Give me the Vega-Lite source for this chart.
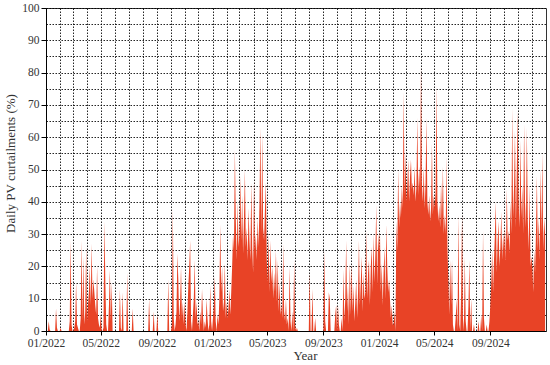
{
"$schema": "https://vega.github.io/schema/vega-lite/v6.json",
"width": 500, "height": 323,
"autosize": {"type": "none"},
"padding": {"left": 46, "top": 8, "right": 4, "bottom": 34},
"background": "white",
"config": {"view": {"stroke": "#333", "strokeWidth": 1}, "font": "Liberation Serif"},
"data": {"values": [
{"date":"2022-01-01","v":0},{"date":"2022-01-03","v":0},{"date":"2022-01-05","v":0},{"date":"2022-01-07","v":3},{"date":"2022-01-09","v":0.5},{"date":"2022-01-11","v":0},{"date":"2022-01-15","v":0},{"date":"2022-01-19","v":0},{"date":"2022-01-21","v":0},{"date":"2022-01-23","v":7},{"date":"2022-01-25","v":1},{"date":"2022-01-27","v":0},{"date":"2022-01-31","v":0},
{"date":"2022-02-02","v":1},{"date":"2022-02-04","v":0},{"date":"2022-02-10","v":0},{"date":"2022-02-16","v":0},{"date":"2022-02-20","v":0},{"date":"2022-02-22","v":3},{"date":"2022-02-24","v":28},{"date":"2022-02-26","v":2},{"date":"2022-02-28","v":0},
{"date":"2022-03-02","v":0},{"date":"2022-03-04","v":1},{"date":"2022-03-06","v":3},{"date":"2022-03-08","v":15},{"date":"2022-03-10","v":2},{"date":"2022-03-12","v":1},{"date":"2022-03-14","v":0},{"date":"2022-03-16","v":0},{"date":"2022-03-18","v":4},{"date":"2022-03-20","v":28},{"date":"2022-03-22","v":3},{"date":"2022-03-24","v":23},{"date":"2022-03-26","v":2},{"date":"2022-03-28","v":6},{"date":"2022-03-30","v":26},
{"date":"2022-04-01","v":3},{"date":"2022-04-03","v":8},{"date":"2022-04-05","v":12},{"date":"2022-04-07","v":20},{"date":"2022-04-09","v":8},{"date":"2022-04-11","v":27},{"date":"2022-04-13","v":10},{"date":"2022-04-15","v":16},{"date":"2022-04-17","v":12},{"date":"2022-04-19","v":8},{"date":"2022-04-21","v":5},{"date":"2022-04-23","v":20},{"date":"2022-04-25","v":4},{"date":"2022-04-27","v":2},{"date":"2022-04-29","v":1},
{"date":"2022-05-01","v":5},{"date":"2022-05-03","v":0},{"date":"2022-05-05","v":0},{"date":"2022-05-07","v":1},{"date":"2022-05-09","v":34},{"date":"2022-05-11","v":16},{"date":"2022-05-13","v":2},{"date":"2022-05-15","v":0},{"date":"2022-05-17","v":0},{"date":"2022-05-19","v":8},{"date":"2022-05-21","v":19},{"date":"2022-05-23","v":3},{"date":"2022-05-25","v":15},{"date":"2022-05-27","v":0},{"date":"2022-05-31","v":0},
{"date":"2022-06-04","v":0},{"date":"2022-06-10","v":0},{"date":"2022-06-12","v":13},{"date":"2022-06-14","v":1},{"date":"2022-06-16","v":0},{"date":"2022-06-18","v":12},{"date":"2022-06-20","v":0},{"date":"2022-06-26","v":0},{"date":"2022-06-28","v":18},{"date":"2022-06-30","v":0},
{"date":"2022-07-08","v":0},{"date":"2022-07-10","v":7},{"date":"2022-07-12","v":0},{"date":"2022-07-24","v":0},
{"date":"2022-08-05","v":0},{"date":"2022-08-13","v":0},{"date":"2022-08-15","v":10},{"date":"2022-08-17","v":0},{"date":"2022-08-23","v":0},{"date":"2022-08-25","v":6},{"date":"2022-08-27","v":0},{"date":"2022-08-31","v":0},
{"date":"2022-09-02","v":5},{"date":"2022-09-04","v":0},{"date":"2022-09-14","v":0},{"date":"2022-09-24","v":0},{"date":"2022-09-26","v":16},{"date":"2022-09-28","v":0},{"date":"2022-09-30","v":0},
{"date":"2022-10-02","v":0},{"date":"2022-10-04","v":2},{"date":"2022-10-06","v":38},{"date":"2022-10-08","v":4},{"date":"2022-10-10","v":0},{"date":"2022-10-12","v":2},{"date":"2022-10-14","v":6},{"date":"2022-10-16","v":24},{"date":"2022-10-18","v":16},{"date":"2022-10-20","v":3},{"date":"2022-10-22","v":9},{"date":"2022-10-24","v":20},{"date":"2022-10-26","v":4},{"date":"2022-10-28","v":9},{"date":"2022-10-30","v":2},
{"date":"2022-11-01","v":9},{"date":"2022-11-03","v":2},{"date":"2022-11-05","v":0},{"date":"2022-11-07","v":6},{"date":"2022-11-09","v":14},{"date":"2022-11-11","v":20},{"date":"2022-11-13","v":28},{"date":"2022-11-15","v":3},{"date":"2022-11-17","v":0},{"date":"2022-11-19","v":5},{"date":"2022-11-21","v":10},{"date":"2022-11-23","v":22},{"date":"2022-11-25","v":4},{"date":"2022-11-27","v":9},{"date":"2022-11-29","v":2},
{"date":"2022-12-01","v":3},{"date":"2022-12-03","v":0},{"date":"2022-12-05","v":6},{"date":"2022-12-07","v":2},{"date":"2022-12-09","v":13},{"date":"2022-12-11","v":5},{"date":"2022-12-13","v":0},{"date":"2022-12-15","v":3},{"date":"2022-12-17","v":1},{"date":"2022-12-19","v":10},{"date":"2022-12-21","v":4},{"date":"2022-12-23","v":0},{"date":"2022-12-25","v":2},{"date":"2022-12-27","v":14},{"date":"2022-12-29","v":3},{"date":"2022-12-31","v":0},
{"date":"2023-01-02","v":4},{"date":"2023-01-04","v":8},{"date":"2023-01-06","v":17},{"date":"2023-01-08","v":3},{"date":"2023-01-10","v":0},{"date":"2023-01-12","v":5},{"date":"2023-01-14","v":2},{"date":"2023-01-16","v":10},{"date":"2023-01-18","v":33},{"date":"2023-01-20","v":12},{"date":"2023-01-22","v":20},{"date":"2023-01-24","v":6},{"date":"2023-01-26","v":9},{"date":"2023-01-28","v":21},{"date":"2023-01-30","v":4},
{"date":"2023-02-01","v":9},{"date":"2023-02-03","v":4},{"date":"2023-02-05","v":7},{"date":"2023-02-07","v":13},{"date":"2023-02-09","v":5},{"date":"2023-02-11","v":12},{"date":"2023-02-13","v":20},{"date":"2023-02-15","v":30},{"date":"2023-02-17","v":25},{"date":"2023-02-19","v":56},{"date":"2023-02-21","v":35},{"date":"2023-02-23","v":22},{"date":"2023-02-25","v":40},{"date":"2023-02-27","v":26},
{"date":"2023-03-01","v":30},{"date":"2023-03-03","v":48},{"date":"2023-03-05","v":28},{"date":"2023-03-07","v":42},{"date":"2023-03-09","v":24},{"date":"2023-03-11","v":35},{"date":"2023-03-13","v":50},{"date":"2023-03-15","v":26},{"date":"2023-03-17","v":32},{"date":"2023-03-19","v":22},{"date":"2023-03-21","v":38},{"date":"2023-03-23","v":28},{"date":"2023-03-25","v":22},{"date":"2023-03-27","v":46},{"date":"2023-03-29","v":26},{"date":"2023-03-31","v":18},
{"date":"2023-04-02","v":47},{"date":"2023-04-04","v":25},{"date":"2023-04-06","v":30},{"date":"2023-04-08","v":22},{"date":"2023-04-10","v":35},{"date":"2023-04-12","v":26},{"date":"2023-04-14","v":40},{"date":"2023-04-16","v":63},{"date":"2023-04-18","v":30},{"date":"2023-04-20","v":61},{"date":"2023-04-22","v":32},{"date":"2023-04-24","v":28},{"date":"2023-04-26","v":38},{"date":"2023-04-28","v":46},{"date":"2023-04-30","v":22},
{"date":"2023-05-02","v":15},{"date":"2023-05-04","v":30},{"date":"2023-05-06","v":12},{"date":"2023-05-08","v":28},{"date":"2023-05-10","v":15},{"date":"2023-05-12","v":20},{"date":"2023-05-14","v":10},{"date":"2023-05-16","v":18},{"date":"2023-05-18","v":12},{"date":"2023-05-20","v":25},{"date":"2023-05-22","v":9},{"date":"2023-05-24","v":22},{"date":"2023-05-26","v":6},{"date":"2023-05-28","v":15},{"date":"2023-05-30","v":5},
{"date":"2023-06-01","v":8},{"date":"2023-06-03","v":4},{"date":"2023-06-05","v":27},{"date":"2023-06-07","v":6},{"date":"2023-06-09","v":3},{"date":"2023-06-11","v":10},{"date":"2023-06-13","v":2},{"date":"2023-06-15","v":4},{"date":"2023-06-17","v":0},{"date":"2023-06-19","v":20},{"date":"2023-06-21","v":3},{"date":"2023-06-23","v":0},{"date":"2023-06-25","v":6},{"date":"2023-06-27","v":0},{"date":"2023-06-29","v":22},
{"date":"2023-07-01","v":2},{"date":"2023-07-03","v":0},{"date":"2023-07-05","v":1},{"date":"2023-07-07","v":0},{"date":"2023-07-19","v":0},{"date":"2023-07-31","v":0},
{"date":"2023-08-02","v":18},{"date":"2023-08-04","v":0},{"date":"2023-08-06","v":0},{"date":"2023-08-08","v":13},{"date":"2023-08-10","v":0},{"date":"2023-08-12","v":0},{"date":"2023-08-14","v":4},{"date":"2023-08-16","v":0},{"date":"2023-08-30","v":0},
{"date":"2023-09-01","v":0},{"date":"2023-09-03","v":25},{"date":"2023-09-05","v":3},{"date":"2023-09-07","v":0},{"date":"2023-09-11","v":0},{"date":"2023-09-13","v":12},{"date":"2023-09-15","v":10},{"date":"2023-09-17","v":0},{"date":"2023-09-25","v":0},{"date":"2023-09-27","v":5},{"date":"2023-09-29","v":8},
{"date":"2023-10-01","v":0},{"date":"2023-10-03","v":8},{"date":"2023-10-05","v":2},{"date":"2023-10-07","v":0},{"date":"2023-10-09","v":0},{"date":"2023-10-11","v":4},{"date":"2023-10-13","v":0},{"date":"2023-10-15","v":19},{"date":"2023-10-17","v":3},{"date":"2023-10-19","v":10},{"date":"2023-10-21","v":28},{"date":"2023-10-23","v":6},{"date":"2023-10-25","v":14},{"date":"2023-10-27","v":2},{"date":"2023-10-29","v":21},{"date":"2023-10-31","v":5},
{"date":"2023-11-02","v":21},{"date":"2023-11-04","v":6},{"date":"2023-11-06","v":14},{"date":"2023-11-08","v":3},{"date":"2023-11-10","v":9},{"date":"2023-11-12","v":16},{"date":"2023-11-14","v":4},{"date":"2023-11-16","v":12},{"date":"2023-11-18","v":28},{"date":"2023-11-20","v":8},{"date":"2023-11-22","v":15},{"date":"2023-11-24","v":23},{"date":"2023-11-26","v":6},{"date":"2023-11-28","v":18},{"date":"2023-11-30","v":10},
{"date":"2023-12-02","v":12},{"date":"2023-12-04","v":31},{"date":"2023-12-06","v":10},{"date":"2023-12-08","v":18},{"date":"2023-12-10","v":22},{"date":"2023-12-12","v":8},{"date":"2023-12-14","v":20},{"date":"2023-12-16","v":26},{"date":"2023-12-18","v":12},{"date":"2023-12-20","v":30},{"date":"2023-12-22","v":15},{"date":"2023-12-24","v":24},{"date":"2023-12-26","v":39},{"date":"2023-12-28","v":14},{"date":"2023-12-30","v":30},
{"date":"2024-01-01","v":25},{"date":"2024-01-03","v":31},{"date":"2024-01-05","v":12},{"date":"2024-01-07","v":21},{"date":"2024-01-09","v":8},{"date":"2024-01-11","v":18},{"date":"2024-01-13","v":26},{"date":"2024-01-15","v":10},{"date":"2024-01-17","v":33},{"date":"2024-01-19","v":20},{"date":"2024-01-21","v":12},{"date":"2024-01-23","v":16},{"date":"2024-01-25","v":10},{"date":"2024-01-27","v":4},{"date":"2024-01-29","v":8},{"date":"2024-01-31","v":2},
{"date":"2024-02-02","v":2},{"date":"2024-02-04","v":6},{"date":"2024-02-06","v":0},{"date":"2024-02-08","v":34},{"date":"2024-02-10","v":25},{"date":"2024-02-12","v":50},{"date":"2024-02-14","v":32},{"date":"2024-02-16","v":40},{"date":"2024-02-18","v":35},{"date":"2024-02-20","v":45},{"date":"2024-02-22","v":38},{"date":"2024-02-24","v":74},{"date":"2024-02-26","v":42},{"date":"2024-02-28","v":55},
{"date":"2024-03-01","v":40},{"date":"2024-03-03","v":45},{"date":"2024-03-05","v":53},{"date":"2024-03-07","v":40},{"date":"2024-03-09","v":48},{"date":"2024-03-11","v":53},{"date":"2024-03-13","v":44},{"date":"2024-03-15","v":46},{"date":"2024-03-17","v":42},{"date":"2024-03-19","v":51},{"date":"2024-03-21","v":40},{"date":"2024-03-23","v":45},{"date":"2024-03-25","v":66},{"date":"2024-03-27","v":42},{"date":"2024-03-29","v":51},{"date":"2024-03-31","v":44},
{"date":"2024-04-02","v":82},{"date":"2024-04-04","v":46},{"date":"2024-04-06","v":40},{"date":"2024-04-08","v":51},{"date":"2024-04-10","v":38},{"date":"2024-04-12","v":46},{"date":"2024-04-14","v":66},{"date":"2024-04-16","v":40},{"date":"2024-04-18","v":36},{"date":"2024-04-20","v":42},{"date":"2024-04-22","v":34},{"date":"2024-04-24","v":38},{"date":"2024-04-26","v":58},{"date":"2024-04-28","v":36},{"date":"2024-04-30","v":42},
{"date":"2024-05-02","v":38},{"date":"2024-05-04","v":43},{"date":"2024-05-06","v":76},{"date":"2024-05-08","v":40},{"date":"2024-05-10","v":34},{"date":"2024-05-12","v":39},{"date":"2024-05-14","v":32},{"date":"2024-05-16","v":46},{"date":"2024-05-18","v":34},{"date":"2024-05-20","v":51},{"date":"2024-05-22","v":30},{"date":"2024-05-24","v":36},{"date":"2024-05-26","v":30},{"date":"2024-05-28","v":54},{"date":"2024-05-30","v":26},
{"date":"2024-06-01","v":15},{"date":"2024-06-03","v":5},{"date":"2024-06-05","v":22},{"date":"2024-06-07","v":8},{"date":"2024-06-09","v":22},{"date":"2024-06-11","v":2},{"date":"2024-06-13","v":0},{"date":"2024-06-15","v":0},{"date":"2024-06-17","v":4},{"date":"2024-06-19","v":10},{"date":"2024-06-21","v":0},{"date":"2024-06-23","v":36},{"date":"2024-06-25","v":2},{"date":"2024-06-27","v":0},{"date":"2024-06-29","v":12},
{"date":"2024-07-01","v":36},{"date":"2024-07-03","v":4},{"date":"2024-07-05","v":0},{"date":"2024-07-07","v":23},{"date":"2024-07-09","v":3},{"date":"2024-07-11","v":0},{"date":"2024-07-13","v":0},{"date":"2024-07-15","v":8},{"date":"2024-07-17","v":22},{"date":"2024-07-19","v":0},{"date":"2024-07-21","v":10},{"date":"2024-07-23","v":0},{"date":"2024-07-25","v":0},{"date":"2024-07-27","v":2},{"date":"2024-07-29","v":0},{"date":"2024-07-31","v":0},
{"date":"2024-08-02","v":0},{"date":"2024-08-04","v":0},{"date":"2024-08-06","v":3},{"date":"2024-08-08","v":0},{"date":"2024-08-10","v":0},{"date":"2024-08-12","v":5},{"date":"2024-08-14","v":0},{"date":"2024-08-16","v":31},{"date":"2024-08-18","v":4},{"date":"2024-08-20","v":0},{"date":"2024-08-22","v":0},{"date":"2024-08-24","v":2},{"date":"2024-08-26","v":0},{"date":"2024-08-28","v":0},{"date":"2024-08-30","v":3},
{"date":"2024-09-01","v":8},{"date":"2024-09-03","v":15},{"date":"2024-09-05","v":25},{"date":"2024-09-07","v":12},{"date":"2024-09-09","v":22},{"date":"2024-09-11","v":30},{"date":"2024-09-13","v":40},{"date":"2024-09-15","v":18},{"date":"2024-09-17","v":28},{"date":"2024-09-19","v":34},{"date":"2024-09-21","v":20},{"date":"2024-09-23","v":26},{"date":"2024-09-25","v":37},{"date":"2024-09-27","v":22},{"date":"2024-09-29","v":30},
{"date":"2024-10-01","v":25},{"date":"2024-10-03","v":32},{"date":"2024-10-05","v":22},{"date":"2024-10-07","v":44},{"date":"2024-10-09","v":28},{"date":"2024-10-11","v":31},{"date":"2024-10-13","v":24},{"date":"2024-10-15","v":40},{"date":"2024-10-17","v":30},{"date":"2024-10-19","v":69},{"date":"2024-10-21","v":35},{"date":"2024-10-23","v":45},{"date":"2024-10-25","v":62},{"date":"2024-10-27","v":32},{"date":"2024-10-29","v":50},{"date":"2024-10-31","v":68},
{"date":"2024-11-02","v":40},{"date":"2024-11-04","v":32},{"date":"2024-11-06","v":59},{"date":"2024-11-08","v":35},{"date":"2024-11-10","v":45},{"date":"2024-11-12","v":30},{"date":"2024-11-14","v":64},{"date":"2024-11-16","v":40},{"date":"2024-11-18","v":32},{"date":"2024-11-20","v":63},{"date":"2024-11-22","v":35},{"date":"2024-11-24","v":25},{"date":"2024-11-26","v":45},{"date":"2024-11-28","v":20},{"date":"2024-11-30","v":23},
{"date":"2024-12-02","v":20},{"date":"2024-12-04","v":12},{"date":"2024-12-06","v":25},{"date":"2024-12-08","v":18},{"date":"2024-12-10","v":30},{"date":"2024-12-12","v":48},{"date":"2024-12-14","v":25},{"date":"2024-12-16","v":35},{"date":"2024-12-18","v":22},{"date":"2024-12-20","v":50},{"date":"2024-12-22","v":30},{"date":"2024-12-24","v":55},{"date":"2024-12-26","v":25},{"date":"2024-12-28","v":35},{"date":"2024-12-30","v":30}
]},
"mark": {"type": "area", "color": "#e84326", "interpolate": "linear"},
"encoding": {
"x": {"field": "date", "type": "temporal",
 "scale": {"domain": [{"year":2022,"month":1,"date":1},{"year":2025,"month":1,"date":1}]},
 "axis": {"title": "Year", "format": "%m/%Y",
  "values": [
   {"year":2022,"month":1,"date":1},{"year":2022,"month":2,"date":1},{"year":2022,"month":3,"date":1},{"year":2022,"month":4,"date":1},{"year":2022,"month":5,"date":1},{"year":2022,"month":6,"date":1},{"year":2022,"month":7,"date":1},{"year":2022,"month":8,"date":1},{"year":2022,"month":9,"date":1},{"year":2022,"month":10,"date":1},{"year":2022,"month":11,"date":1},{"year":2022,"month":12,"date":1},
   {"year":2023,"month":1,"date":1},{"year":2023,"month":2,"date":1},{"year":2023,"month":3,"date":1},{"year":2023,"month":4,"date":1},{"year":2023,"month":5,"date":1},{"year":2023,"month":6,"date":1},{"year":2023,"month":7,"date":1},{"year":2023,"month":8,"date":1},{"year":2023,"month":9,"date":1},{"year":2023,"month":10,"date":1},{"year":2023,"month":11,"date":1},{"year":2023,"month":12,"date":1},
   {"year":2024,"month":1,"date":1},{"year":2024,"month":2,"date":1},{"year":2024,"month":3,"date":1},{"year":2024,"month":4,"date":1},{"year":2024,"month":5,"date":1},{"year":2024,"month":6,"date":1},{"year":2024,"month":7,"date":1},{"year":2024,"month":8,"date":1},{"year":2024,"month":9,"date":1},{"year":2024,"month":10,"date":1},{"year":2024,"month":11,"date":1},{"year":2024,"month":12,"date":1}],
  "labelExpr": "month(datum.value) % 4 == 0 ? datum.label : ''",
  "labelOverlap": false, "labelFlush": false,
  "labelFont": "Liberation Serif", "labelFontSize": 11.5, "labelColor": "#333", "labelPadding": 2,
  "tickOpacity": {"condition": {"test": "month(datum.value) % 4 == 0", "value": 1}, "value": 0},
  "tickSize": 4, "tickColor": "#000",
  "domainColor": "#000",
  "grid": true, "gridColor": "#000", "gridDash": [1.5, 1.5], "gridOpacity": 0.85, "gridWidth": 1,
  "titleFont": "Liberation Serif", "titleFontSize": 13, "titleFontWeight": "normal", "titleColor": "#333", "titlePadding": 1, "titleX": 259}},
"y": {"field": "v", "type": "quantitative",
 "scale": {"domain": [0, 100], "nice": false},
 "axis": {"title": "Daily PV curtailments (%)",
  "values": [0,5,10,15,20,25,30,35,40,45,50,55,60,65,70,75,80,85,90,95,100],
  "labelExpr": "datum.value % 10 == 0 ? datum.label : ''",
  "labelOverlap": false, "labelFlush": false,
  "labelFont": "Liberation Serif", "labelFontSize": 11.5, "labelColor": "#333", "labelPadding": 2,
  "tickOpacity": {"condition": {"test": "datum.value % 10 == 0", "value": 1}, "value": 0},
  "tickSize": 5, "tickColor": "#000",
  "domainColor": "#000",
  "grid": true, "gridColor": "#000", "gridDash": [1.5, 1.5], "gridOpacity": 0.85, "gridWidth": 1,
  "titleFont": "Liberation Serif", "titleFontSize": 13, "titleFontWeight": "normal", "titleColor": "#333", "titlePadding": 4, "titleY": 155}}
}
}
